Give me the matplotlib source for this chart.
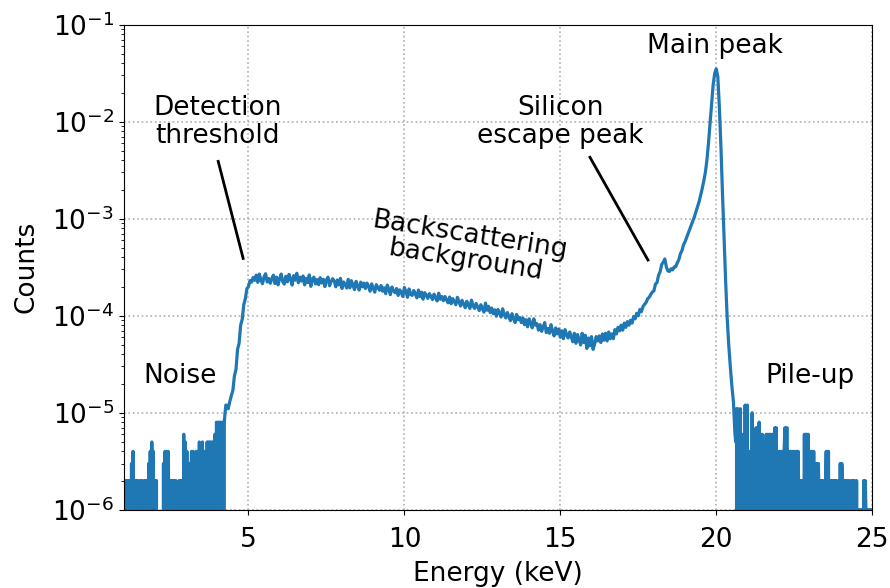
import numpy as np
import matplotlib.pyplot as plt

# Spectrum values in units of 1e-6 (normalised counts)

# 1.000 - 4.275 keV, 0.025 keV bins : electronic noise below threshold
noise_counts = [2, 0, 2, 1, 2, 2, 2, 0, 2, 0, 3, 0, 4, 1, 2, 0, 2, 0, 2, 0,
                0, 2, 0, 2, 1, 0, 2, 0, 2, 1, 2, 0, 3, 0, 4, 0, 5, 1, 4, 0,
                2, 0, 2, 0, 0, 0, 0, 0, 0, 0, 0, 3, 0, 4, 0, 4, 0, 4, 1, 2,
                0, 2, 0, 2, 0, 2, 1, 2, 0, 0, 0, 2, 0, 2, 1, 2, 0, 6, 0, 5,
                0, 4, 0, 3, 0, 3, 1, 4, 0, 4, 0, 3, 0, 4, 2, 4, 0, 5, 0, 4,
                0, 5, 0, 4, 0, 4, 0, 5, 1, 5, 0, 5, 0, 5, 0, 5, 0, 6, 0, 8,
                0, 8, 0, 8, 8, 0, 6, 8, 0, 8, 10, 12]
# 4.30 - 5.20 keV, 0.05 keV bins : threshold edge
edge_counts = [12, 11, 13, 15, 17, 24, 28, 45, 52, 80, 92, 130, 150, 190, 200,
               230, 222, 248, 232]
# 5.25 - 17.95 keV, 0.05 keV bins : backscattering continuum
plateau_counts = [262, 221, 269, 233, 214, 252, 271, 223, 242, 216,
                  243, 262, 215, 250, 208, 241, 269, 224, 212, 255,
                  224, 267, 240, 207, 259, 233, 274, 219, 250, 228,
                  257, 208, 243, 220, 264, 201, 239, 250, 213, 236,
                  209, 247, 218, 238, 200, 234, 250, 204, 225, 241,
                  228, 199, 234, 208, 243, 191, 223, 212, 193, 237,
                  194, 230, 207, 186, 226, 203, 184, 222, 199, 217,
                  191, 217, 201, 179, 213, 193, 175, 209, 195, 183,
                  205, 179, 194, 169, 207, 188, 165, 198, 181, 173,
                  191, 162, 185, 173, 158, 196, 176, 155, 189, 166,
                  162, 182, 168, 153, 184, 158, 175, 148, 173, 163,
                  151, 169, 159, 147, 167, 153, 142, 171, 148, 158,
                  143, 158, 146, 136, 156, 133, 150, 140, 130, 155,
                  140, 126, 144, 132, 121, 141, 130, 119, 145, 127,
                  119, 134, 123, 113, 130, 118, 109, 135, 114, 125,
                  108, 120, 105, 115, 99, 116, 107, 97, 118, 103,
                  95, 108, 98, 89, 105, 93, 85, 103, 91, 96,
                  85, 95, 81, 91, 77, 93, 84, 75, 93, 80,
                  83, 71, 81, 69, 77, 85, 67, 74, 66, 81,
                  69, 62, 75, 65, 73, 60, 70, 58, 72, 64,
                  59, 68, 61, 54, 66, 52, 64, 57, 50, 66,
                  53, 63, 46, 59, 49, 61, 45, 51, 61, 55,
                  62, 53, 65, 56, 66, 55, 68, 58, 65, 58,
                  72, 65, 76, 70, 80, 71, 84, 76, 87, 80,
                  90, 84, 98, 93, 106, 100, 116, 110, 124, 131,
                  137, 150, 155, 166, 176]
# 18.00 - 20.55 keV, 0.05 keV bins : Si escape peak and main peak
peak_counts = [180, 212, 220, 262, 284, 338, 356, 385, 318, 290,
               286, 305, 297, 318, 320, 352, 378, 436, 470, 540,
               580, 640, 710, 780, 860, 950, 1050, 1180, 1330, 1500,
               1750, 2050, 2450, 3000, 4000, 6000, 9500, 15000, 24000, 31500,
               35000, 29000, 14000, 5500, 1800, 650, 230, 95, 50, 30,
               19, 13]
# 20.600 - 25.000 keV, 0.025 keV bins : pile-up tail
pileup_counts = [6, 5, 11, 0, 11, 10, 0, 11, 0, 6, 0, 5, 0, 12, 0, 11, 12, 0, 4, 0,
                 2, 0, 10, 0, 2, 0, 0, 7, 0, 7, 1, 8, 0, 6, 0, 6, 0, 2, 0, 2,
                 6, 0, 6, 1, 6, 0, 6, 0, 6, 5, 0, 7, 0, 7, 0, 4, 0, 4, 1, 4,
                 0, 4, 0, 4, 7, 0, 7, 7, 0, 4, 0, 4, 0, 4, 1, 4, 0, 4, 0, 4,
                 0, 4, 1, 2, 0, 2, 0, 2, 0, 6, 0, 6, 6, 0, 6, 0, 4, 0, 4, 4,
                 0, 4, 0, 3, 0, 3, 0, 3, 1, 2, 0, 2, 0, 2, 0, 0, 1, 4, 0, 4,
                 4, 0, 2, 0, 2, 1, 2, 0, 2, 0, 2, 0, 0, 2, 0, 3, 0, 3, 2, 0,
                 2, 0, 2, 0, 2, 1, 2, 0, 0, 2, 0, 2, 0, 2, 1, 0, 2, 0, 1, 1,
                 0, 1, 0, 1, 0, 2, 0, 2, 1, 0, 1, 1, 0, 1, 0, 1, 1]

# (start energy, bin width, counts)
segments = [(1.00, 0.025, noise_counts), (4.30, 0.05, edge_counts),
            (5.25, 0.05, plateau_counts), (18.00, 0.05, peak_counts),
            (20.60, 0.025, pileup_counts)]

energy = np.concatenate([start + step * np.arange(len(c)) for start, step, c in segments])
counts = np.concatenate([np.array(c, dtype=float) for _, _, c in segments]) * 1e-6

plt.rcParams['font.size'] = 19

fig = plt.figure(figsize=(8.9, 5.88), dpi=100)
ax = fig.add_axes([0.139, 0.133, 0.841, 0.825])

ax.plot(energy, counts, color='#1f77b4', lw=2.3)
ax.set_yscale('log')
ax.set_xlim(1, 25)
ax.set_ylim(1e-6, 1e-1)
ax.set_xticks([5, 10, 15, 20, 25])
ax.tick_params(axis='x', pad=9)
ax.grid(True, which='major', linestyle=':', color='#b0b0b0', lw=1.2)
ax.set_xlabel('Energy (keV)', labelpad=6)
ax.set_ylabel('Counts', labelpad=9)

# labels for the spectral features
ax.text(19.97, 6.0e-2, 'Main peak', ha='center', va='center')
ax.text(15.0, 1.0e-2, 'Silicon\nescape peak', ha='center', va='center', linespacing=1.1)
ax.text(4.0, 1.0e-2, 'Detection\nthreshold', ha='center', va='center', linespacing=1.1)
ax.text(12.05, 5.0e-4, 'Backscattering\nbackground', ha='center', va='center',
        rotation=-9, linespacing=1.0)
ax.text(2.8, 2.4e-5, 'Noise', ha='center', va='center')
ax.text(23.0, 2.4e-5, 'Pile-up', ha='center', va='center')

ax.plot([4.03, 4.83], [3.9e-3, 3.9e-4], color='k', lw=2)
ax.plot([15.95, 17.81], [4.3e-3, 3.75e-4], color='k', lw=2)

fig.savefig('out.png', dpi=100)
